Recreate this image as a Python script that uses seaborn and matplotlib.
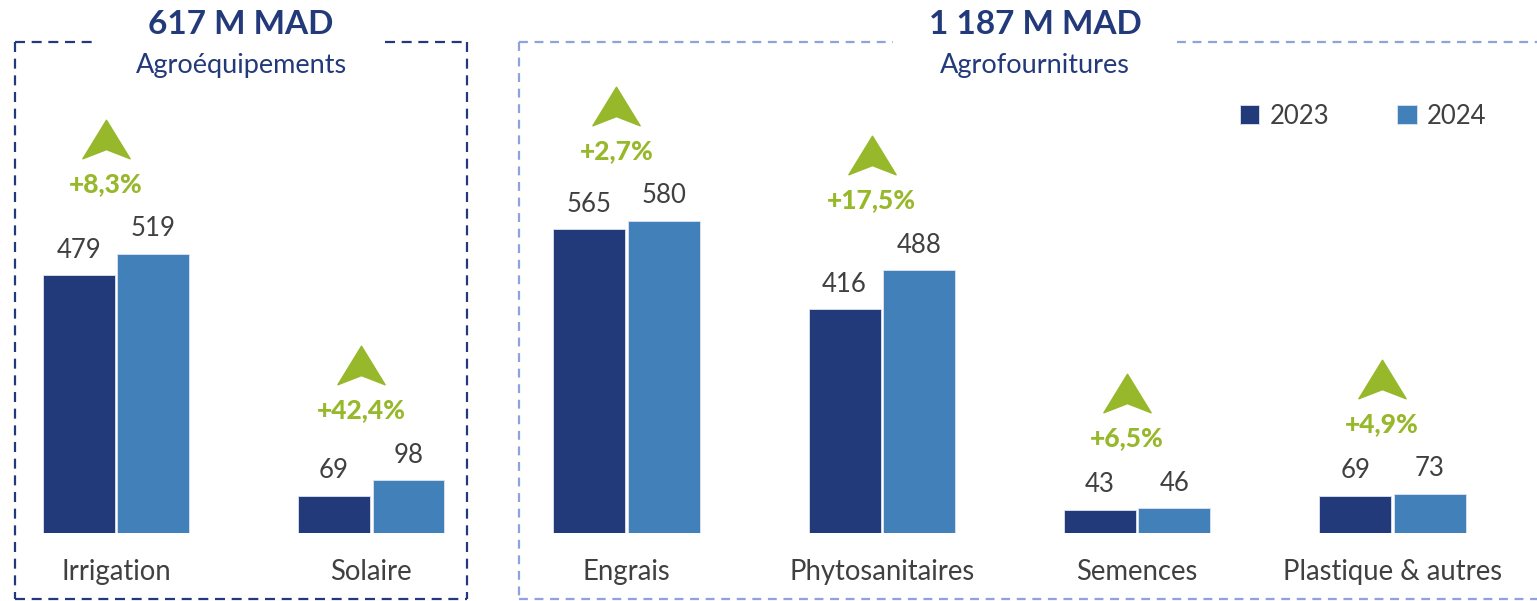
import pandas as pd
import seaborn as sns
import matplotlib.pyplot as plt
from matplotlib.lines import Line2D
from matplotlib.path import Path

sns.set_theme(style="white")
plt.rcParams['font.family'] = ['Lato', 'DejaVu Sans']

categories = ["Irrigation", "Solaire", "Engrais", "Phytosanitaires", "Semences", "Plastique & autres"]
values_2023 = [479, 69, 565, 416, 43, 69]
values_2024 = [519, 98, 580, 488, 46, 73]
growth = ["+8,3%", "+42,4%", "+2,7%", "+17,5%", "+6,5%", "+4,9%"]
groups = ["617 M MAD", "1 187 M MAD"]
group_names = ["Agroéquipements", "Agrofournitures"]

navy = "#233A7A"
blue = "#4280BA"
green = "#96B82A"
grey = "#404040"
light = "#8EA3DE"

W, H = 1537, 601

df = pd.DataFrame({
    "cat": categories * 2,
    "year": ["2023"] * 6 + ["2024"] * 6,
    "val": values_2023 + values_2024,
})

fig = plt.figure(figsize=(W / 100, H / 100), dpi=100)
ax = fig.add_axes([0, 68 / H, 1, 533 / H])

sns.barplot(data=df, x="cat", y="val", hue="year", palette=[navy, blue],
            saturation=1, width=0.584, gap=0.035, ax=ax,
            edgecolor="#dde3ee", linewidth=0.6)

for cont in ax.containers:
    ax.bar_label(cont, padding=9, fontsize=18.5, color=grey)

ax.set_xlim(-0.454, 5.566)
ax.set_ylim(0, 533 / 0.538)
ax.set_xlabel("")
ax.set_ylabel("")
ax.set_yticks([])
ax.tick_params(axis="x", length=0, pad=19, labelsize=19.8, labelcolor=grey)
sns.despine(ax=ax, left=True, bottom=True)

# arrow marker with a notch at the bottom
arrow = Path([(0, 0.8), (0.98, -0.8), (0, -0.42), (-0.98, -0.8), (0, 0.8)],
             [Path.MOVETO, Path.LINETO, Path.LINETO, Path.LINETO, Path.CLOSEPOLY])
for i, g in enumerate(growth):
    top = max(values_2023[i], values_2024[i])
    ax.text(i - 0.04, top + 130, g, ha="center", va="center",
            fontsize=19, fontweight="black", color=green)
    ax.plot(i - 0.04, top + 214, marker=arrow, ms=34, color=green, mec=green)

leg = ax.legend(loc="center left", bbox_to_anchor=(1217 / W, 1 - 116 / H),
                bbox_transform=fig.transFigure, ncol=2, frameon=False,
                handlelength=0.75, handleheight=0.75, handletextpad=0.4,
                columnspacing=2.65, fontsize=18.5)
for t in leg.get_texts():
    t.set_color(grey)


def px(x, y):
    return x / W, 1 - y / H


def seg(x0, y0, x1, y1, color, dash):
    a, b = px(x0, y0)
    c, d = px(x1, y1)
    fig.add_artist(Line2D([a, c], [b, d], transform=fig.transFigure, color=color,
                          lw=1.6, linestyle=(0, dash)))


# left box
seg(15, 42, 97, 42, navy, (4.5, 3))
seg(385, 42, 467, 42, navy, (4.5, 3))
seg(15, 42, 15, 599, navy, (4.5, 3))
seg(467, 42, 467, 599, navy, (4.5, 3))
seg(15, 599, 467, 599, navy, (4.5, 3))
# right box
seg(519, 42, 893, 42, light, (4, 3))
seg(1177, 42, 1537, 42, light, (4, 3))
seg(519, 42, 519, 599, light, (4, 3))
seg(519, 599, 1537, 599, light, (4, 3))

for cx, big, small in [(241, groups[0], group_names[0]), (1035, groups[1], group_names[1])]:
    fig.text(*px(cx, 24), big, ha="center", va="center", fontsize=24,
             fontweight="bold", color=navy)
    fig.text(*px(cx, 66), small, ha="center", va="center", fontsize=19.5, color=navy)

fig.savefig("out.png", dpi=100)
